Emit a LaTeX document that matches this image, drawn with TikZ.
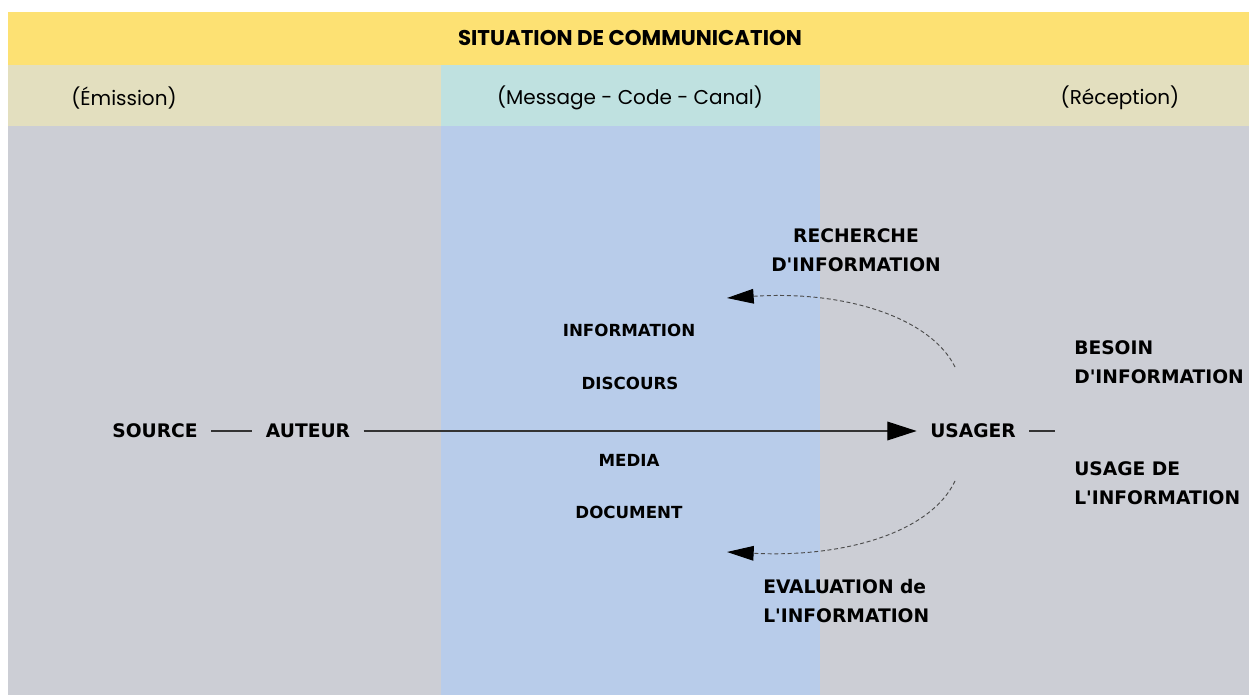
\documentclass[tikz,border=0pt]{standalone}
\usepackage{fontspec}
\setmainfont{DejaVu Sans}
\newfontfamily\headfont{Poppins}
\usetikzlibrary{arrows.meta}

\definecolor{bandyellow}{HTML}{FDE173}
\definecolor{bandside}{HTML}{E3DFBF}
\definecolor{bandmid}{HTML}{BFE1E0}
\definecolor{bodygray}{HTML}{CCCED5}
\definecolor{bodyblue}{HTML}{B8CCEA}

\begin{document}
\begin{tikzpicture}[x=0.75pt,y=0.75pt,yscale=-1,xscale=1,
  hdr/.style={font=\headfont\fontsize{15}{18}\selectfont, inner sep=0.75pt},
  lbl/.style={font=\bfseries\fontsize{14}{21.75}\selectfont, inner ysep=0.75pt, inner xsep=10pt},
  midlbl/.style={font=\bfseries\fontsize{12.5}{15}\selectfont, inner sep=0.75pt},
  flow/.style={draw=black!80, line width=1pt},
  bigtip/.style={-{Triangle[length=22pt,width=14pt,color=black]}},
  dashflow/.style={draw=black!70, line width=0.7pt, dash pattern={on 3pt off 2pt}, -{Triangle[length=20pt,width=11pt,color=black]}}]
\useasboundingbox (0,0) rectangle (1249,695);

% bands
\fill[bandyellow] (8,12) rectangle (1249,65);
\fill[bandside] (8,65) rectangle (441,126);
\fill[bandmid] (441,65) rectangle (820,126);
\fill[bandside] (820,65) rectangle (1249,126);
\fill[bodygray] (8,126) rectangle (441,695);
\fill[bodyblue] (441,126) rectangle (820,695);
\fill[bodygray] (820,126) rectangle (1249,695);

% Text Node
\node[hdr, font=\headfont\bfseries\fontsize{16}{19}\selectfont] (title) at (630,38) {SITUATION DE COMMUNICATION};
% Text Node
\node[hdr] (emission) at (124,98) {(Émission)};
% Text Node
\node[hdr] (canal) at (630,98) {(Message - Code - Canal)};
% Text Node
\node[hdr] (reception) at (1120,98) {(Réception)};

% Text Node
\node[lbl] (source) at (155,431) {SOURCE};
% Text Node
\node[lbl] (auteur) at (308,431) {AUTEUR};
% Text Node
\node[lbl] (usager) at (973,431) {USAGER};
\coordinate (usagerend) at (1055,431);

% Text Node
\node[midlbl] (information) at (629,330) {INFORMATION};
% Text Node
\node[midlbl] (discours) at (630,383) {DISCOURS};
% Text Node
\node[midlbl] (media) at (629,460) {MEDIA};
% Text Node
\node[midlbl] (document) at (629,512) {DOCUMENT};

% Text Node
\node[lbl, inner xsep=0.75pt, align=center] (recherche) at (856,250) {RECHERCHE\\D\textquotesingle INFORMATION};
% Text Node
\node[lbl, inner xsep=0.75pt, align=left, anchor=west] (evaluation) at (762,601) {EVALUATION de\\L\textquotesingle INFORMATION};
% Text Node
\node[lbl, inner xsep=0.75pt, align=left, anchor=west] (besoin) at (1073,362) {BESOIN\\D\textquotesingle INFORMATION};
% Text Node
\node[lbl, inner xsep=0.75pt, align=left, anchor=west] (usage) at (1073,483) {USAGE DE\\L\textquotesingle INFORMATION};

% Straight Lines
\draw[flow] (source) -- (auteur);
\draw[flow, bigtip] (auteur) -- (usager);
\draw[flow] (usager) -- (usagerend);

% Curve Lines
\coordinate (rechstart) at (955,367);
\coordinate (rechtip) at (727,298);
\draw[dashflow] (rechstart) .. controls (932,320) and (850,290) .. (rechtip);
\coordinate (evalstart) at (955,481);
\coordinate (evaltip) at (727,552);
\draw[dashflow] (evalstart) .. controls (932,530) and (850,558) .. (evaltip);

\end{tikzpicture}
\end{document}
